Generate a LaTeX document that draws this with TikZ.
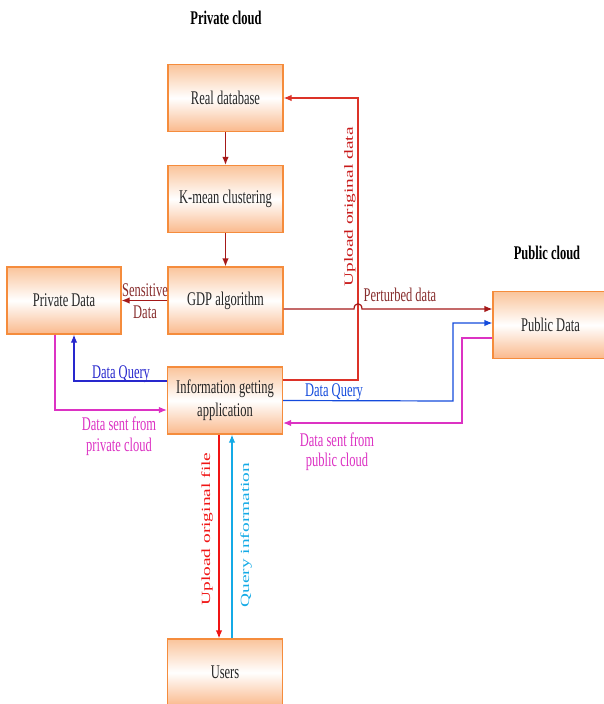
\documentclass[tikz,border=0pt]{standalone}
\usepackage{fontspec}
\setmainfont{Liberation Serif}
\usepackage{graphicx}
\usetikzlibrary{arrows.meta,shadings}
\definecolor{boxline}{RGB}{245,140,60}
\definecolor{boxtop}{RGB}{250,196,155}
\definecolor{boxbot}{RGB}{250,185,140}
\definecolor{darkred}{RGB}{165,25,25}
\definecolor{brownlbl}{RGB}{135,45,45}
\definecolor{upred}{RGB}{220,50,40}
\definecolor{uplbl}{RGB}{200,25,25}
\definecolor{blueL}{RGB}{40,40,205}
\definecolor{blueR}{RGB}{20,75,220}
\definecolor{magq}{RGB}{220,50,195}
\definecolor{redU}{RGB}{240,20,20}
\definecolor{cyanQ}{RGB}{20,170,230}
\newcommand\fs{\fontsize{12.5}{14.5}\selectfont}
\newcommand\vs[1]{\scalebox{1}[1.55]{#1}}
\newcommand\hs[1]{\scalebox{1.55}[1]{#1}}
\begin{document}
\begin{tikzpicture}[x=1pt,y=-1pt,
  box/.style={draw=boxline, line width=1.2pt, top color=boxtop, bottom color=boxbot, middle color=white,
    minimum width=115pt, minimum height=67pt, inner sep=0pt, font=\fs, text=black!85},
  conn/.style={line width=1.2pt, -{Latex[length=8pt,width=6.5pt]}},
  lbl/.style={font=\fs, inner sep=0pt},
  ttl/.style={font=\fs\bfseries, inner sep=0pt}]
\useasboundingbox (0,0) rectangle (603,704);

\node[ttl] (t1) at (226,18) {\vs{Private cloud}};
\node[ttl] (t2) at (547,253) {\vs{Public cloud}};

\node[box] (realdb) at (225.5,98) {\vs{Real database}};
\node[box] (kmean) at (225.5,199) {\vs{K-mean clustering}};
\node[box] (gdp) at (225.5,300.5) {\vs{GDP algorithm}};
\node[box, minimum width=114pt] (priv) at (64,300.5) {\vs{Private Data}};
\node[box] (info) at (225,400.5) {\vs{\begin{tabular}{@{}c@{}}Information getting\\application\end{tabular}}};
\node[box] (pub) at (550.5,325) {\vs{Public Data}};
\node[box] (users) at (225,672.5) {\vs{Users}};

\draw[conn, darkred] (realdb) -- (kmean);
\draw[conn, darkred] (kmean) -- (gdp);
\draw[conn, darkred] (gdp) -- (priv);
\draw[conn, upred] (info.east |- 0,380) -- (358,380) -- (358,98) -- (realdb.east);
\draw[conn, darkred] (gdp.east |- 0,309) -- (354,309) .. controls (354,302) and (362,302) .. (362,309) -- (pub.west |- 0,309);
\draw[conn, blueL] (info.west |- 0,381) -- (74,381) -- (priv.south -| 74,0);
\draw[conn, magq] (priv.south -| 55,0) -- (55,410) -- (info.west |- 0,410);
\draw[conn, blueR] (info.east) -- (453,401) -- (453,323) -- (pub.west |- 0,323);
\draw[conn, magq] (pub.west |- 0,338) -- (462,338) -- (462,423) -- (info.east |- 0,423);
\draw[conn, redU] (info.south -| 219,0) -- (users.north -| 219,0);
\draw[conn, cyanQ] (users.north -| 232,0) -- (info.south -| 232,0);

\node[lbl, text=brownlbl] (l1) at (145,290) {\vs{Sensitive}};
\node[lbl, text=brownlbl] (l2) at (145,312) {\vs{Data}};
\node[lbl, text=brownlbl] (l3) at (400,295) {\vs{Perturbed data}};
\node[lbl, text=uplbl, rotate=90] (l4) at (350,207) {\hs{Upload original data}};
\node[lbl, text=blueL] (l5) at (121,374) {\vs{Data Query}};
\node[lbl, text=blueR] (l6) at (334,392) {\vs{Data Query}};
\node[lbl, text=magq] (l7) at (119,424) {\vs{Data sent from}};
\node[lbl, text=magq] (l8) at (119,447) {\vs{private cloud}};
\node[lbl, text=magq] (l9) at (337,440) {\vs{Data sent from}};
\node[lbl, text=magq] (l10) at (337,462) {\vs{public cloud}};
\node[lbl, text=redU, rotate=90] (l11) at (207,529) {\hs{Upload original file}};
\node[lbl, text=cyanQ, rotate=90] (l12) at (246,535) {\hs{Query information}};
\end{tikzpicture}
\end{document}
